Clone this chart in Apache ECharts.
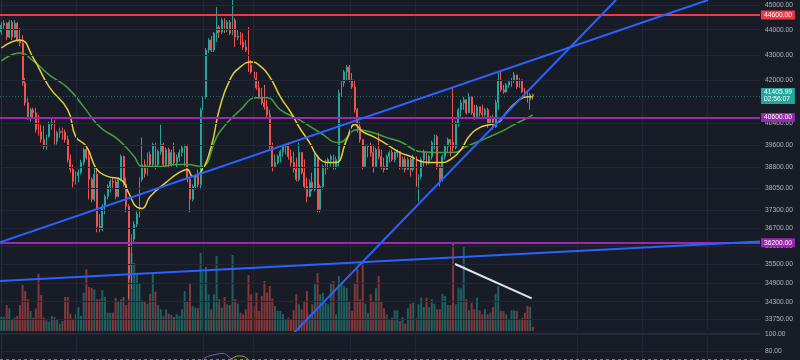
<!DOCTYPE html>
<html><head><meta charset="utf-8">
<script src="https://cdn.jsdelivr.net/npm/echarts@6/dist/echarts.min.js"></script>
<style>html,body{margin:0;padding:0;background:#181c27;}#c{width:800px;height:360px;}</style>
</head><body><div id="c"></div>
<script>
// ---- data (4h candles) ----
const candleOpen = [
43905,44185,44266,43705,44306,43705,44266,43586,43467,41910,
41153,40631,40891,40779,40152,40079,39788,39535,39897,40336,
40410,39716,40043,40079,40060,39788,39069,38714,38293,38503,
38608,38962,39427,39140,38363,37670,38538,36754,36653,37430,
37773,38119,38293,38270,37773,38363,39176,38188,37430,35022,
36321,36821,37158,38363,38891,38573,39247,38891,39607,38891,
39355,39607,38891,39427,38891,39319,38962,39140,39319,39499,
39535,38363,37670,38119,38468,38188,40891,41379,43190,43586,
43190,43865,44105,43905,44387,43985,44306,43865,44387,43705,
43745,43507,43309,43190,42604,42333,42102,41720,41379,41153,
41004,40705,39535,38820,38962,39176,39355,39535,39560,39176,
38962,38714,38363,39319,38608,38119,37773,38258,38014,39176,
37328,38119,38820,38962,39069,39176,38820,39069,41530,41910,
42333,42526,42025,41758,40891,40262,39788,38820,39535,39560,
39319,38820,39427,39176,38820,38714,39176,39319,39069,39319,
39355,38820,39069,38714,39069,38714,39176,38119,38468,39069,
39319,38962,39176,39679,39897,38820,38363,39176,39535,39788,
39679,39499,40410,40891,41153,41266,40779,41379,40779,40631,
41004,40779,40705,40891,40336,40594,40262,41153,42025,41644,
41568,41834,41949,42025,42217,41758,42025,41568,41455,41266,
41455];
const candleClose = [
44185,44266,43705,44306,43705,44266,43586,43467,41910,41153,
40631,40891,40779,40152,40079,39788,39535,39897,40336,40410,
39716,40043,40079,40060,39788,39069,38714,38293,38503,38608,
38962,39427,39140,38363,37670,38538,36754,36653,37430,37773,
38119,38293,38270,37773,38363,39176,38188,37430,35022,36321,
36821,37158,38363,38891,38573,39247,38891,39607,38891,39355,
39607,38891,39427,38891,39319,38962,39140,39319,39499,39535,
38363,37670,38119,38468,38188,40891,41379,43190,43586,43190,
43865,44105,43905,44387,43985,44306,43865,44387,43705,43745,
43507,43309,43190,42604,42333,42102,41720,41379,41153,41004,
40705,39535,38820,38962,39176,39355,39535,39560,39176,38962,
38714,38363,39319,38608,38119,37773,38258,38014,39176,37328,
38119,38820,38962,39069,39176,38820,39069,41530,41910,42333,
42526,42025,41758,40891,40262,39788,38820,39535,39560,39319,
38820,39427,39176,38820,38714,39176,39319,39069,39319,39355,
38820,39069,38714,39069,38714,39176,38119,38468,39069,39319,
38962,39176,39679,39897,38820,38363,39176,39535,39788,39679,
39499,40410,40891,41153,41266,40779,41379,40779,40631,41004,
40779,40705,40891,40336,40594,40262,41153,42025,41644,41568,
41834,41949,42025,42217,41758,42025,41568,41455,41266,41455,
41405.99];
const candleHigh = [
44306,44387,44306,44387,44387,44387,44306,44065,43785,42102,
41342,40966,40966,40966,40705,40336,40299,39970,40446,40594,
40520,40116,40226,40226,40152,39934,39247,38891,38644,38714,
39069,39499,39499,39427,38433,38891,38714,37158,37498,37842,
38188,38363,38433,38363,38433,39247,39211,38433,37498,36487,
36922,37260,38433,39861,39069,39319,39355,39679,39679,39427,
40336,39679,39499,39499,39427,39679,39247,39427,39571,39607,
39607,38433,38188,38538,38714,40966,41455,43269,43665,43745,
43905,44918,44185,44468,44468,44387,44387,45290,44468,43985,
43905,43865,43586,44105,42798,42604,42333,42025,41720,41834,
41266,40891,39679,39247,39247,39427,39607,39643,39679,39427,
39355,39140,39679,39319,39069,38433,38363,38608,39319,39247,
38188,38891,39069,39140,39247,39247,39176,41644,42025,42410,
42604,42604,42294,42025,40966,40446,39788,39607,39607,39679,
39607,39499,40043,39427,39140,39247,39391,39427,39355,39427,
39355,39176,39176,39140,39140,39247,39176,38538,39140,39427,
39355,39247,39752,39970,39970,38891,39247,39607,39861,39788,
41720,40483,40966,41266,41379,41266,41530,41379,41078,41078,
41004,41078,40966,40966,40668,40705,41266,42294,42333,41834,
41910,42025,42102,42333,42217,42102,42025,41720,41644,41530,
41493];
const candleLow = [
43785,43985,43586,43665,43586,43665,43507,43348,41796,41041,
40520,40446,40594,40043,39934,39679,39427,39427,39861,40152,
39607,39607,39861,39788,39679,38962,38608,38084,38188,38258,
38538,38856,39069,37670,37567,37601,36553,36553,36587,37158,
37670,37911,38014,37670,37739,38293,38119,37226,34391,34705,
36156,36720,37057,38293,38433,38503,38785,38785,38714,38820,
39247,38785,38785,38785,38820,38856,38785,38998,39176,38820,
38258,37226,37601,38014,38084,38014,40779,41304,43073,43112,
43112,43507,43665,43825,43865,43905,43785,43785,43309,43586,
43388,43190,43112,42333,42256,42025,41644,41304,41078,40891,
40594,39427,38644,38785,38891,38962,39176,39247,39069,38820,
38608,38293,38293,38538,38014,37567,37739,37945,37945,37226,
37226,38014,38538,38714,38820,38714,38714,38820,41379,41758,
42025,41949,41682,40779,40043,39679,38714,38820,39140,39176,
38608,38820,39069,38714,38608,38714,38962,38998,38962,39140,
38714,38714,38608,38714,38468,38644,37773,37601,38363,38820,
38856,38891,39069,39427,38714,38119,38293,39069,39319,39176,
39355,39427,40262,40631,40891,40705,40779,40705,40520,40631,
40631,40631,40631,40226,40336,40152,40226,40891,41568,41493,
41530,41720,41758,41910,41682,41720,41530,41379,41153,40891,
41266];
const volume = [
1400,1400,2600,2270,1170,1330,1500,2600,4600,4000,
3170,2000,1330,2270,5730,3600,1330,1070,930,1500,
1400,1170,730,1000,3400,3400,1730,1170,1730,2400,
1500,3830,6170,4400,4330,4170,3170,3170,4070,3400,
1830,1830,1830,3330,3000,3170,3400,2600,8800,7800,
6800,5800,4800,3070,3000,2730,3730,5730,3930,2600,
2170,1500,2170,1730,1600,1400,1670,1500,2170,4000,
3000,4830,2500,2330,2270,7800,5900,6400,3670,2170,
3670,7500,3170,2330,3400,2670,2600,7600,3170,2730,
1830,1670,2170,5600,3670,2500,3830,2000,3500,5000,
3830,4500,3270,2500,2000,2000,1670,1170,1330,1170,
2070,3670,2670,2170,3000,4000,1670,2670,4670,5800,
3670,3830,2830,2670,4830,5000,1670,5500,4830,4500,
4330,3000,2000,4800,6200,3170,6900,2730,1830,3670,
3000,4270,5500,3000,2270,1670,1170,1330,2070,2070,
1000,1400,730,2270,2730,2830,1330,2670,3330,2400,
3330,2400,3170,2730,2170,2170,3730,3500,2600,2600,
8860,2670,4330,4270,8500,3170,2070,2830,2170,3330,
2070,1670,2170,1670,1830,2400,3730,4500,2000,2000,
1670,1170,2070,2070,2000,1170,1330,1830,2500,2400,
400];
const slotCount = 286;               // candle slots incl. empty space on the right
const slots = Array.from({length: slotCount}, (_, i) => String(i));
const maFast = [[0,43270],[7,43586],[12,42880],[18,41760],[25,40890],[28,39900],[32,39540],[36,38710],[40,38470],[45,38360],[48,37880],[51,37400],[53,37360],[56,37770],[62,38260],[67,38610],[70,38710],[72,38470],[75,38610],[79,39540],[82,40890],[86,42025],[90,42530],[94,42720],[97,42600],[101,42140],[105,41380],[109,40780],[112,40260],[116,39680],[120,39070],[124,38960],[126,38960],[130,39790],[133,40340],[136,40080],[140,39900],[144,39680],[150,39320],[154,39180],[158,39000],[161,38960],[165,38960],[169,39070],[173,39430],[176,39900],[180,40230],[184,40340],[187,40410],[190,40780],[194,41190],[198,41380],[200,41380]];
const maSlow = [[0,42760],[7,43070],[12,42760],[18,42220],[25,41720],[31,41000],[37,40260],[44,39790],[50,39180],[53,38820],[60,38820],[66,38890],[70,38890],[75,38820],[82,40040],[90,40890],[96,41340],[100,41340],[105,40890],[112,40520],[120,40040],[127,39680],[134,40150],[140,40040],[145,39860],[150,39720],[158,39350],[165,39320],[170,39320],[175,39540],[183,39860],[188,40080],[193,40340],[198,40590],[200,40700]];
const priceTicks = [45000,44000,43000,42000,40400,39600,38800,38050,37300,36700,36100,35500,34900,34300,33750];
const timeGrid = [28.1,75.9,94.7,131.2,155.7,216.6,241.1,265.6];
const levelRed = 44600;
const levelPurple = [40600, 36200];
const lastPrice = 41405.99;
const countdown = '02:56:07';
const trendA = [[-0.5,36214],[265.94,45215]];
const trendB = [[107.5,33118],[231.28,45215]];
const trendC = [[-0.5,34956],[285.5,36244]];
const whiteTrend = [[170.72,35504],[199.59,34407]];
const rsiLine = [[74.8,66.8],[76.65,72.0],[80.4,75.8],[83.5,77.2],[85.3,74.0],[86.7,70.1],[88.3,66.8]];
const rsiAvg = [[85.3,68.0],[86.8,71.0],[89.2,74.0],[91.0,73.7],[92.3,71.3],[93.6,68.0]];
const rsiTicks = [100, 80];
const rsiBand = 70;

// ---- styles ----
const UP = '#26a69a', DOWN = '#ef5350', GRIDC = '#232735', TXT = '#b2b5be';
const FONT = 'Liberation Sans';
const blue = '#2962ff', purple = '#9c27b0', red = '#f23645';
const hide = {axisLine:{show:false},axisTick:{show:false},axisLabel:{show:false},splitLine:{show:false}};
const tickLabel = {show:true, position:'end', distance:5, color:TXT, fontSize:6.7, fontFamily:FONT};
const boxLabel = (bg, txt) => ({show:true, position:'end', distance:1, color:'#ffffff', fontSize:6.7, fontFamily:FONT,
  lineHeight:7, padding:[1,3,1,3], backgroundColor:bg, formatter: txt});

const chart = echarts.init(document.getElementById('c'), null, {renderer:'canvas'});
chart.setOption({
  backgroundColor:'#181c27',
  animation:false,
  grid:[{left:0,right:40,top:0,height:331},{left:0,right:40,top:333,height:27}],
  xAxis:[
    Object.assign({type:'category',gridIndex:0,data:slots,boundaryGap:true}, hide),
    Object.assign({type:'value',gridIndex:0,min:-0.5,max:slotCount-0.5}, hide),
    {type:'value',gridIndex:1,min:-0.5,max:slotCount-0.5,position:'top',
     axisLine:{show:true,lineStyle:{color:'#2a2e39'}},axisTick:{show:false},axisLabel:{show:false},splitLine:{show:false}}
  ],
  yAxis:[
    {type:'log',logBase:10,gridIndex:0,min:33391.9,max:45214.8,position:'right',
     axisLine:{show:true,lineStyle:{color:'#2a2e39'}},axisTick:{show:false},axisLabel:{show:false},splitLine:{show:false}},
    Object.assign({type:'value',gridIndex:0,min:0,max:33100}, hide),
    {type:'value',gridIndex:1,min:69.22,max:101.56,position:'right',
     axisLine:{show:true,lineStyle:{color:'#2a2e39'}},axisTick:{show:false},axisLabel:{show:false},splitLine:{show:false}}
  ],
  series:[
    {type:'line',xAxisIndex:1,yAxisIndex:0,data:[],z:0,silent:true,
     markLine:{silent:true,symbol:['none','none'],lineStyle:{color:GRIDC,width:1,type:'solid'},
       label:Object.assign({formatter:p=>Number(p.value).toFixed(2)},tickLabel),
       data:priceTicks.map(v=>({yAxis:v})).concat(timeGrid.map(t=>({xAxis:t,label:{show:false}})))}},
    {type:'line',xAxisIndex:2,yAxisIndex:2,data:[],z:0,silent:true,
     markLine:{silent:true,symbol:['none','none'],lineStyle:{color:GRIDC,width:1,type:'solid'},
       label:Object.assign({formatter:p=>Number(p.value).toFixed(2)},tickLabel),
       data:rsiTicks.map(v=>({yAxis:v})).concat(timeGrid.map(t=>({xAxis:t,label:{show:false}})),
         [{yAxis:rsiBand,lineStyle:{color:'#787b86',type:[3,3],width:1},label:{show:false}}])}},
    {type:'bar',xAxisIndex:0,yAxisIndex:1,barWidth:2,z:1,silent:true,
     data:volume.map((v,i)=>({value:v,itemStyle:{color:candleClose[i]>=candleOpen[i]?'rgba(38,166,154,0.5)':'rgba(239,83,80,0.5)'}}))},
    {type:'candlestick',xAxisIndex:0,yAxisIndex:0,barWidth:1.4,z:3,silent:true,
     itemStyle:{color:UP,color0:DOWN,borderColor:UP,borderColor0:DOWN,borderWidth:1},
     data:candleOpen.map((o,i)=>[o,candleClose[i],candleLow[i],candleHigh[i]])},
    {type:'line',xAxisIndex:1,yAxisIndex:0,data:maSlow,smooth:0.5,showSymbol:false,silent:true,z:4,
     lineStyle:{color:'#47a03f',width:1.5}},
    {type:'line',xAxisIndex:1,yAxisIndex:0,data:maFast,smooth:0.5,showSymbol:false,silent:true,z:4,
     lineStyle:{color:'#e4cf3a',width:1.5}},
    {type:'line',xAxisIndex:1,yAxisIndex:0,data:[],z:6,silent:true,
     markLine:{silent:true,symbol:['none','none'],
       data:[
         {yAxis:levelRed,lineStyle:{color:red,width:2,type:'solid'},label:boxLabel(red,levelRed.toFixed(2))},
         {yAxis:levelPurple[0],lineStyle:{color:purple,width:2,type:'solid'},label:boxLabel(purple,levelPurple[0].toFixed(2))},
         {yAxis:levelPurple[1],lineStyle:{color:purple,width:2,type:'solid'},label:boxLabel(purple,levelPurple[1].toFixed(2))},
         {yAxis:lastPrice,lineStyle:{color:'rgba(38,166,154,0.55)',width:1,type:[1,2]},label:boxLabel(UP,lastPrice.toFixed(2)+'\n'+countdown)}
       ]}},
    ...[trendA,trendB,trendC].map(d=>({type:'line',xAxisIndex:1,yAxisIndex:0,data:d,showSymbol:false,silent:true,z:5,clip:true,
       lineStyle:{color:blue,width:2}})),
    {type:'line',xAxisIndex:1,yAxisIndex:0,data:whiteTrend,showSymbol:false,silent:true,z:5,lineStyle:{color:'#e0e3eb',width:2}},
    {type:'line',xAxisIndex:2,yAxisIndex:2,data:rsiLine,smooth:0.4,showSymbol:false,silent:true,z:4,lineStyle:{color:'#7e57c2',width:1}},
    {type:'line',xAxisIndex:2,yAxisIndex:2,data:rsiAvg,smooth:0.5,showSymbol:false,silent:true,z:4,lineStyle:{color:'#b5a03a',width:1}}
  ]
});
</script></body></html>
